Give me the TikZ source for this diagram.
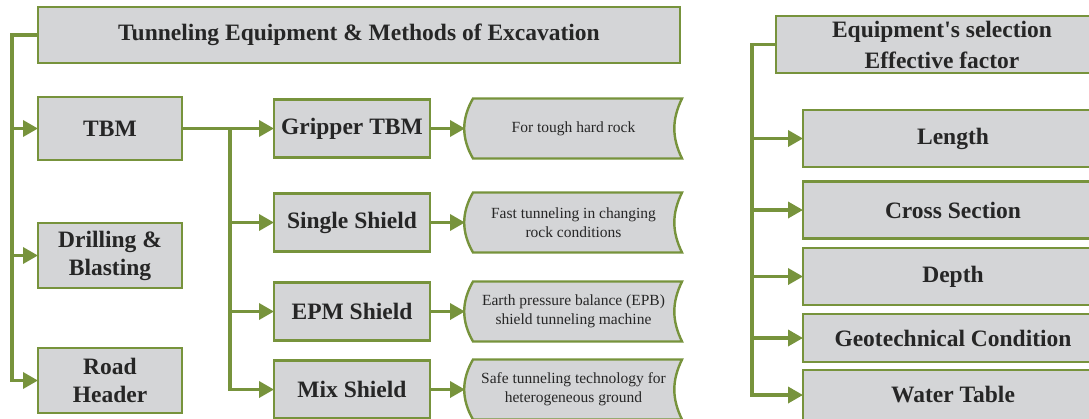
\documentclass[tikz,border=0pt]{standalone}
\usepackage{fontspec}
\setmainfont{Liberation Serif}
\usepackage{tikz}
\usetikzlibrary{arrows.meta, positioning, backgrounds, calc}

\definecolor{leaf}{RGB}{119,147,60}
\definecolor{boxgray}{RGB}{212,213,215}
\definecolor{ink}{RGB}{38,38,38}

\begin{document}
\begin{tikzpicture}[
    x=1pt, y=1pt,
    box/.style={draw=leaf, line width=2.4pt, fill=boxgray, text=ink, inner sep=0pt, outer sep=0pt, align=center,
                font=\fontsize{23.5}{28}\selectfont\bfseries},
    mainbox/.style={box, minimum width=144pt, minimum height=65pt},
    typebox/.style={box, minimum width=156pt, minimum height=58pt},
    factorbox/.style={box, minimum width=300pt, minimum height=57pt},
    note/.style={text=ink, inner sep=0pt, outer sep=0pt, align=center, minimum width=217pt, minimum height=60pt,
                 font=\fontsize{15.5}{19}\selectfont},
    link/.style={draw=leaf, line width=3.5pt},
    arrow/.style={link, -{Triangle[length=15pt, width=16pt]}},
]
\useasboundingbox (0,0) rectangle (1089,-418);

% methods of excavation
\node[box, minimum width=642pt, minimum height=56pt] (tunnel) at (359,-35) {Tunneling Equipment \& Methods of Excavation};
\node[mainbox, minimum height=63pt] (tbm) at (110,-128.5) {TBM};
\node[mainbox, below=63pt of tbm] (drill) {Drilling \&\\Blasting};
\node[mainbox, below=60pt of drill] (road) {Road\\Header};

% TBM types
\node[typebox, right=92pt of tbm] (grip) {Gripper TBM};
\node[typebox, below=36pt of grip] (single) {Single Shield};
\node[typebox, below=31pt of single] (epm) {EPM Shield};
\node[typebox, below=20pt of epm] (mix) {Mix Shield};

\node[note, right=35pt of grip] (gripnote) {For tough hard rock};
\node[note, right=35pt of single] (singlenote) {Fast tunneling in changing\\rock conditions};
\node[note, right=35pt of epm] (epmnote) {Earth pressure balance (EPB)\\shield tunneling machine};
\node[note, right=35pt of mix] (mixnote) {Safe tunneling technology for\\heterogeneous ground};

% selection factors
\node[box, minimum width=332pt, minimum height=57pt, font=\fontsize{23.5}{31}\selectfont\bfseries] (select) at (942,-44.5) {Equipment\textquotesingle s selection\\Effective factor};
\node[factorbox] (length) at (953,-138.5) {Length};
\node[factorbox, below=14.5pt of length] (cross) {Cross Section};
\node[factorbox, below=9.5pt of cross] (depth) {Depth};
\node[factorbox, minimum height=48pt, below=9pt of depth] (geo) {Geotechnical Condition};
\node[factorbox, minimum height=50pt, below=8pt of geo] (water) {Water Table};

% curved note outlines
\begin{scope}[on background layer]
\foreach \n in {gripnote,singlenote,epmnote,mixnote}
  \draw[leaf, line width=2.4pt, fill=boxgray]
    ([xshift=8pt]\n.north west) -- (\n.north east)
    to[bend right=26] (\n.south east)
    -- ([xshift=8pt]\n.south west)
    to[bend left=30] cycle;
\end{scope}

\coordinate (ltrunk) at (12,0);
\coordinate (mtrunk) at (230,0);
\coordinate (rtrunk) at (752,0);

\draw[arrow] (tunnel.west) -| (ltrunk |- road) -- (road);
\draw[arrow] (ltrunk |- tbm) -- (tbm);
\draw[arrow] (ltrunk |- drill) -- (drill);

\draw[arrow] (tbm) -- (grip);
\draw[arrow] (mtrunk |- tbm) |- (mix);
\draw[arrow] (mtrunk |- single) -- (single);
\draw[arrow] (mtrunk |- epm) -- (epm);

\draw[arrow] (grip) -- (gripnote);
\draw[arrow] (single) -- (singlenote);
\draw[arrow] (epm) -- (epmnote);
\draw[arrow] (mix) -- (mixnote);

\draw[arrow] (select.west) -| (rtrunk |- water) -- (water);
\foreach \f in {length,cross,depth,geo}
  \draw[arrow] (rtrunk |- \f) -- (\f);
\end{tikzpicture}
\end{document}
